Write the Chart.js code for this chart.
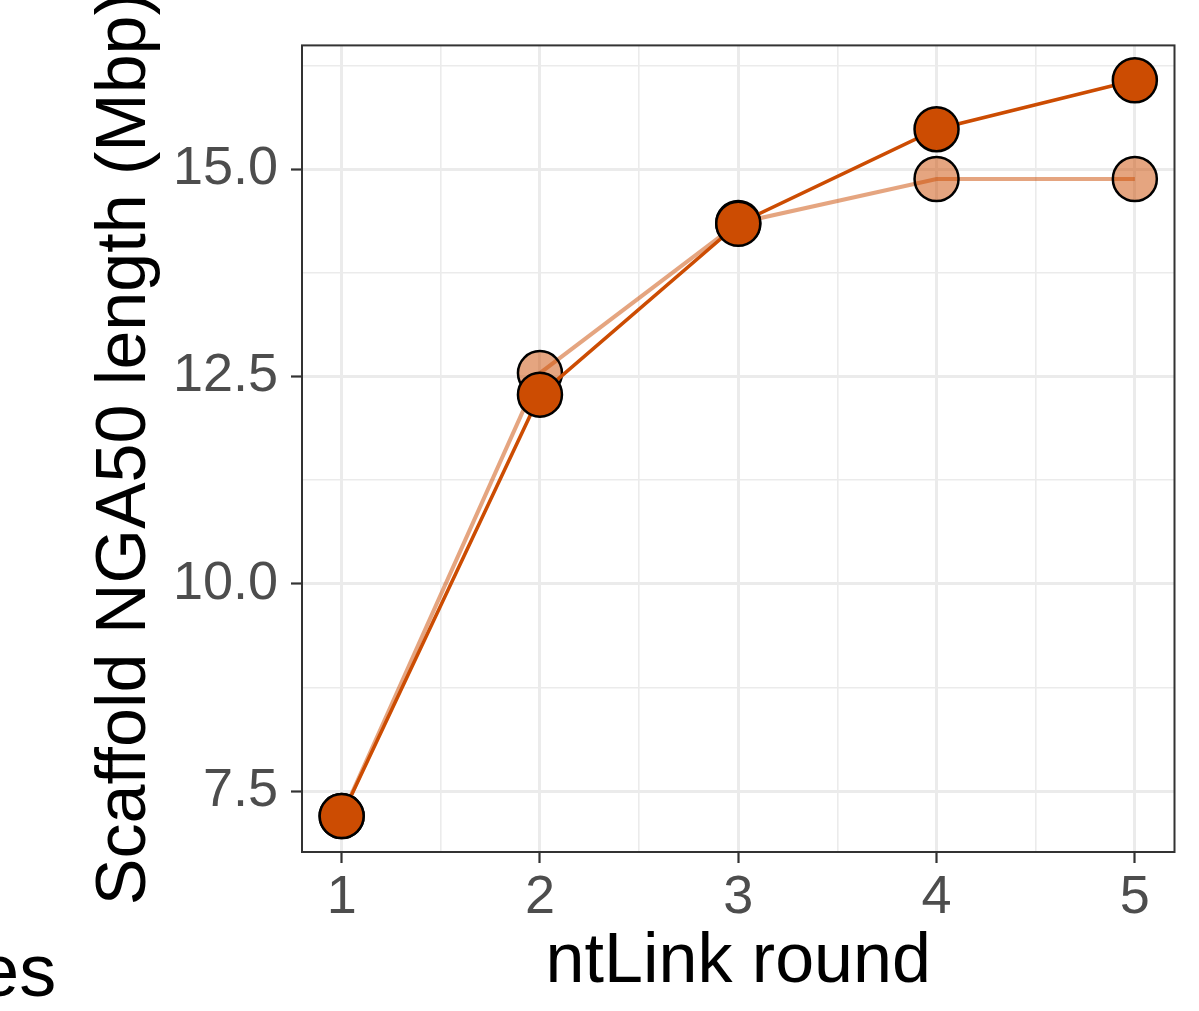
<!DOCTYPE html>
<html><head><meta charset="utf-8">
<script src="https://cdn.jsdelivr.net/npm/chart.js@4/dist/chart.umd.min.js"></script>
<style>
html,body{margin:0;padding:0;background:#fff;}
#wrap{position:relative;width:1199px;height:1011px;overflow:hidden;background:#fff;}
#c{display:block;}
#frag{position:absolute;left:-22px;top:934px;font-family:"Liberation Sans",Arial,sans-serif;font-size:74px;line-height:1;color:#000;white-space:nowrap;}
</style></head><body>
<div id="wrap"><canvas id="c" width="1199" height="1011"></canvas><div id="frag">es</div></div>
<script>
const rounds = [1, 2, 3, 4, 5];
const darkSeries = [7.20, 12.28, 14.34, 15.48, 16.07];
const lightSeries = [7.20, 12.54, 14.35, 14.88, 14.88];
const xTicks = [1, 2, 3, 4, 5];
const xTickLabels = ['1', '2', '3', '4', '5'];
const xMinor = [1.5, 2.5, 3.5, 4.5];
const yTicks = [7.5, 10.0, 12.5, 15.0];
const yTickLabels = ['7.5', '10.0', '12.5', '15.0'];
const yMinor = [8.75, 11.25, 13.75, 16.25];
const xTitle = 'ntLink round';
const yTitle = 'Scaffold NGA50 length (Mbp)';

const FONT = '"Liberation Sans", Arial, Helvetica, sans-serif';
const DARK = 'rgb(204,76,2)';
const LIGHT = 'rgba(204,76,2,0.5)';

function pts(arr){ return rounds.map((r,i)=>({x:r, y:arr[i]})); }

function buildTicks(major, minor){
  return [...major.map(v=>({value:v, major:true})), ...minor.map(v=>({value:v, major:false}))].sort((a,b)=>a.value-b.value);
}
function isMajor(list, v){ return list.some(m=>Math.abs(m-v)<1e-9); }

const borderPlugin = {
  id: 'panelBorder',
  afterDraw(chart){
    const {ctx, chartArea:a} = chart;
    ctx.save();
    ctx.strokeStyle = '#333333';
    ctx.lineWidth = 2;
    ctx.strokeRect(a.left, a.top, a.right - a.left, a.bottom - a.top);
    ctx.restore();
  }
};

new Chart(document.getElementById('c'), {
  type: 'line',
  data: {
    datasets: [
      {
        label: 'dark', data: pts(darkSeries), order: 0,
        borderColor: DARK, backgroundColor: DARK, borderWidth: 3.5,
        pointRadius: 22, pointHoverRadius: 22, pointBorderColor: '#000', pointBackgroundColor: DARK, pointBorderWidth: 2.5,
        tension: 0, clip: false
      },
      {
        label: 'light', data: pts(lightSeries), order: 1,
        borderColor: LIGHT, backgroundColor: LIGHT, borderWidth: 4,
        pointRadius: 22, pointHoverRadius: 22, pointBorderColor: '#000', pointBackgroundColor: LIGHT, pointBorderWidth: 2.5,
        tension: 0, clip: false
      }
    ]
  },
  options: {
    responsive: false, animation: false, devicePixelRatio: 1,
    layout: { padding: { top: 44, right: 23, left: 0, bottom: 0 } },
    plugins: { legend: { display: false }, tooltip: { enabled: false } },
    scales: {
      x: {
        type: 'linear', min: 0.8, max: 5.2,
        afterBuildTicks: s => { s.ticks = buildTicks(xTicks, xMinor); },
        afterFit: s => { s.height = 159; },
        ticks: {
          autoSkip: false, maxRotation: 0, padding: 3, color: '#4D4D4D',
          font: { family: FONT, size: 54 },
          callback: (v) => { const i = xTicks.findIndex(t=>Math.abs(t-v)<1e-9); return i>=0 ? xTickLabels[i] : ''; }
        },
        grid: {
          color: '#EBEBEB',
          lineWidth: c => (c.tick && isMajor(xTicks, c.tick.value)) ? 3 : 1.6,
          tickColor: c => (c.tick && isMajor(xTicks, c.tick.value)) ? '#333333' : 'rgba(0,0,0,0)',
          tickWidth: 2.2, tickLength: 11, drawTicks: true
        },
        border: { display: false },
        title: { display: true, text: xTitle, color: '#000', font: { family: FONT, size: 70, lineHeight: 1 }, padding: { top: 0, bottom: 13 } }
      },
      y: {
        type: 'linear', min: 6.767, max: 16.49,
        afterBuildTicks: s => { s.ticks = buildTicks(yTicks, yMinor); },
        afterFit: s => { s.width = 302; },
        ticks: {
          autoSkip: false, padding: 13, color: '#4D4D4D',
          font: { family: FONT, size: 54 },
          callback: (v) => { const i = yTicks.findIndex(t=>Math.abs(t-v)<1e-9); return i>=0 ? yTickLabels[i] : ''; }
        },
        grid: {
          color: '#EBEBEB',
          lineWidth: c => (c.tick && isMajor(yTicks, c.tick.value)) ? 3 : 1.6,
          tickColor: c => (c.tick && isMajor(yTicks, c.tick.value)) ? '#333333' : 'rgba(0,0,0,0)',
          tickWidth: 2.2, tickLength: 11, drawTicks: true
        },
        border: { display: false },
        title: { display: true, text: yTitle, color: '#000', font: { family: FONT, size: 70, lineHeight: 1 }, padding: { top: 91, bottom: 0 } }
      }
    }
  },
  plugins: [borderPlugin]
});
</script>
</body></html>
